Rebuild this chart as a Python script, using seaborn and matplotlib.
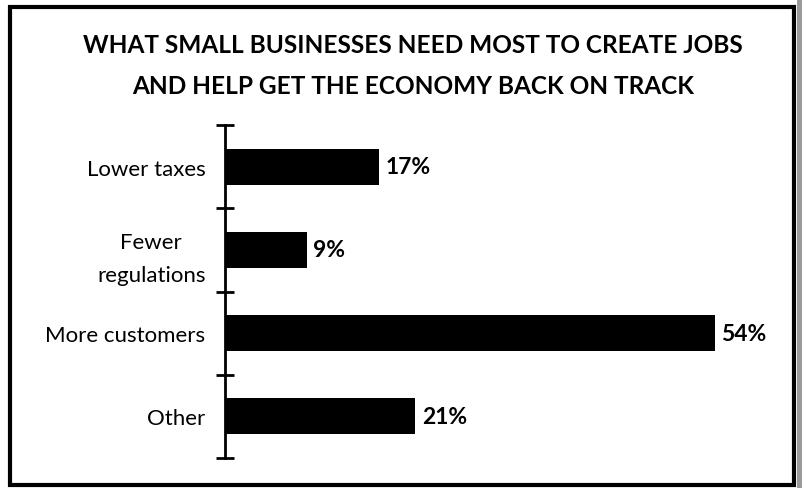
import matplotlib
matplotlib.use("Agg")
import matplotlib.pyplot as plt
from matplotlib.patches import Rectangle
import seaborn as sns
import pandas as pd

categories = ["Lower taxes", "Fewer\nregulations", "More customers", "Other"]
shares = [17, 9, 54, 21]
value_labels = ["17%", "9%", "54%", "21%"]
title_text = ("WHAT SMALL BUSINESSES NEED MOST TO CREATE JOBS\n"
              "AND HELP GET THE ECONOMY BACK ON TRACK")

sns.set_theme(style="white")
plt.rcParams["font.family"] = ["Lato", "DejaVu Sans"]

df = pd.DataFrame({"category": categories, "share": shares})

fig = plt.figure(figsize=(8.02, 4.89), dpi=100)
ax = fig.add_axes([225 / 802, 1 - 459 / 489, (769 - 225) / 802, (459 - 126) / 489])

sns.barplot(data=df, x="share", y="category", orient="h", color="black",
            width=0.43, saturation=1, ax=ax, edgecolor="none")

ax.set_xlim(0, 60)
ax.set_ylim(len(categories) - 0.5, -0.5)
ax.set_xlabel("")
ax.set_ylabel("")
ax.set_xticks([])

for side in ["top", "right", "bottom"]:
    ax.spines[side].set_visible(False)
ax.spines["left"].set_color("black")
ax.spines["left"].set_linewidth(2)

# category labels on major ticks, boundary tick marks on minor ticks
ax.set_yticks(range(len(categories)))
ax.set_yticklabels(categories, fontsize=16, color="black", linespacing=1.8,
                   multialignment="center")
ax.tick_params(axis="y", which="major", length=0, pad=14)
ax.set_yticks([i - 0.5 for i in range(len(categories) + 1)], minor=True)
ax.tick_params(axis="y", which="minor", direction="inout", length=13,
               width=2, color="black", left=True)

for i, (v, lab) in enumerate(zip(shares, value_labels)):
    ax.annotate(lab, xy=(v, i), xytext=(4.5, 0), textcoords="offset points",
                ha="left", va="center", fontsize=16.5, fontweight="bold",
                color="black")

fig.text(413 / 802, 1 - 66 / 489, title_text, ha="center", va="center",
         fontsize=17.6, fontweight="bold", color="black", linespacing=1.95)

# frame around the whole chart
fig.patches.append(Rectangle((10 / 802, 1 - 486 / 489), (794 - 10) / 802,
                             (486 - 8) / 489, transform=fig.transFigure,
                             fill=False, edgecolor="black", linewidth=3))
fig.patches.append(Rectangle((797 / 802, 0), 5 / 802, 1,
                             transform=fig.transFigure, facecolor="#9a9a9a",
                             edgecolor="none"))

fig.savefig("out.png", dpi=100, facecolor="white")
